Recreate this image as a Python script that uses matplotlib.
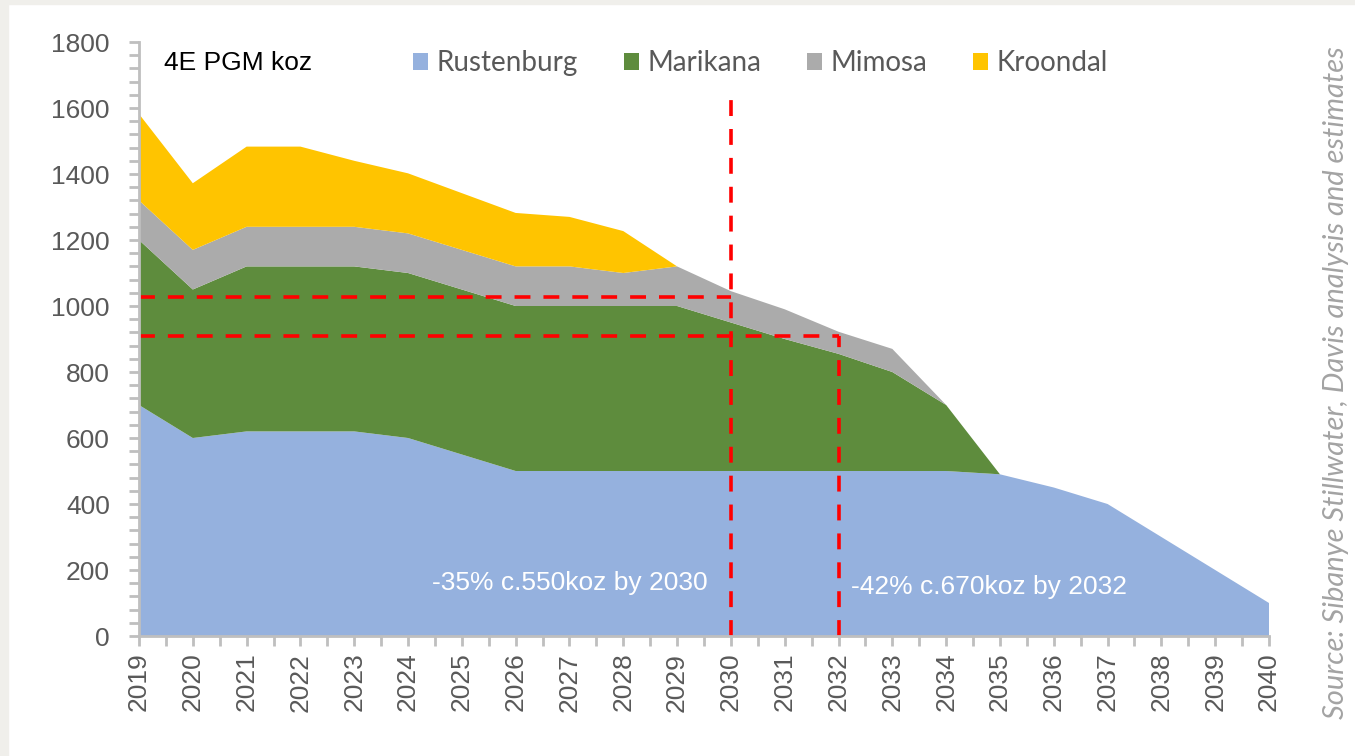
import matplotlib.pyplot as plt
from matplotlib.patches import Rectangle

# yearly 4E PGM output by operation (koz)
years = list(range(2019, 2041))
rustenburg = [700, 600, 620, 620, 620, 600, 550, 500, 500, 500, 500,
              500, 500, 500, 500, 500, 490, 450, 400, 300, 200, 100]
marikana = [500, 450, 500, 500, 500, 500, 500, 500, 500, 500, 500,
            450, 400, 355, 300, 200, 0, 0, 0, 0, 0, 0]
mimosa = [120, 120, 120, 120, 120, 120, 120, 120, 120, 100, 120,
          95, 90, 67, 70, 0, 0, 0, 0, 0, 0, 0]
kroondal = [262, 202, 243, 243, 200, 182, 172, 162, 150, 127, 0,
            0, 0, 0, 0, 0, 0, 0, 0, 0, 0, 0]

labels = ["Rustenburg", "Marikana", "Mimosa", "Kroondal"]
colors = ["#95b1de", "#5e8c3d", "#ababab", "#ffc400"]

# reference levels for the -35% / -42% markers
level_2030 = 1027
level_2032 = 908
peak_line_top = 1625

fig = plt.figure(figsize=(13.55, 7.56), dpi=100)
fig.patch.set_facecolor("white")
# light grey frame on the top and left edge of the screenshot
fig.patches.append(Rectangle((0, 0), 8 / 1355, 1, transform=fig.transFigure,
                             color="#f0efeb", zorder=0))
fig.patches.append(Rectangle((0, 1 - 4 / 756), 1, 4 / 756, transform=fig.transFigure,
                             color="#f0efeb", zorder=0))

ax = fig.add_axes([139 / 1355, 1 - 636 / 756, 1130 / 1355, 594 / 756])
ax.stackplot(years, rustenburg, marikana, mimosa, kroondal,
             colors=colors, labels=labels, linewidth=0)

# red dashed guides
red = dict(color="#ff0000", lw=2.6, dashes=(4.4, 3.6), zorder=5)
ax.plot([2019, 2030], [level_2030, level_2030], **red)
ax.plot([2019, 2032], [level_2032, level_2032], **red)
ax.plot([2030, 2030], [0, peak_line_top], **red)
ax.plot([2032, 2032], [0, level_2032], **red)

ax.text(2027.0, 162, "-35% c.550koz by 2030", color="white", fontsize=19,
        family="Liberation Sans", ha="center", va="center")
ax.text(2034.8, 148, "-42% c.670koz by 2032", color="white", fontsize=19,
        family="Liberation Sans", ha="center", va="center")

ax.set_xlim(2019, 2040)
ax.set_ylim(0, 1800)
ax.set_xticks(years)
ax.set_xticks([y + 0.5 for y in years[:-1]], minor=True)
ax.set_yticks(range(0, 1801, 200))
ax.set_yticks(range(0, 1801, 40), minor=True)
ax.set_xticklabels([str(y) for y in years], rotation=90)

for s in ["top", "right"]:
    ax.spines[s].set_visible(False)
for s in ["left", "bottom"]:
    ax.spines[s].set_color("#bfbfbf")
    ax.spines[s].set_linewidth(2)
    ax.spines[s].set_zorder(6)
ax.tick_params(which="both", color="#bfbfbf", width=2, length=7,
               labelcolor="#595959", labelsize=19)
ax.tick_params(axis="y", pad=14)
ax.tick_params(axis="x", pad=5)
for lab in ax.get_xticklabels() + ax.get_yticklabels():
    lab.set_family("Liberation Sans")

ax.text(0.022, 0.965, "4E PGM koz", transform=ax.transAxes, fontsize=19,
        family="Liberation Sans", color="black", va="center")

fig.legend(loc="center left", bbox_to_anchor=(413 / 1355, 1 - 63 / 756),
           ncol=4, frameon=False, prop={"family": "Lato", "size": 20},
           handlelength=0.55, handleheight=0.55, handletextpad=0.3,
           columnspacing=1.65, borderpad=0, borderaxespad=0, labelcolor="#595959")

fig.text(1336 / 1355, 1 - 383 / 756,
         "Source: Sibanye Stillwater, Davis analysis and estimates",
         rotation=90, ha="center", va="center", fontsize=21, color="#a3a3a3",
         family="Lato", style="italic")

fig.savefig("out.png", dpi=100)
